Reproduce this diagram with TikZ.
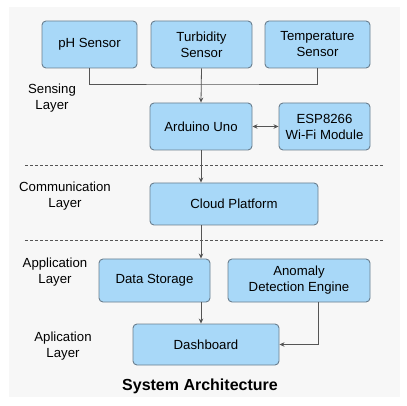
\documentclass[tikz,border=0pt]{standalone}
\usepackage{fontspec}
\setmainfont{Liberation Sans}
\usetikzlibrary{arrows.meta}
\definecolor{boxfill}{HTML}{A8D8F8}
\definecolor{boxline}{HTML}{6A7E8E}
\definecolor{wire}{HTML}{555555}
\definecolor{panel}{HTML}{F7F7F7}
\tikzset{
  block/.style = {draw=boxline, fill=boxfill, rounded corners=4pt, line width=0.9pt,
                  align=center, inner sep=2pt, font=\fontsize{13.2}{16}\selectfont},
  layer/.style = {align=center, font=\fontsize{13.2}{16}\selectfont},
  wires/.style = {draw=wire, line width=0.8pt},
  tip/.style   = {-{Stealth[length=5pt,width=4.5pt]}}
}
\begin{document}
\begin{tikzpicture}[x=1pt, y=-1pt]
        \useasboundingbox (0,0) rectangle (407,406);
        \fill[panel] (9,7) rectangle (400,397);
        % sensing layer
        \node[block, minimum width=95pt,  minimum height=47pt] (ph)   at ( 89.5, 44.5) {pH Sensor};
        \node[block, minimum width=101pt, minimum height=47pt] (turb) at (201.5, 44.5) {Turbidity\\Sensor};
        \node[block, minimum width=105pt, minimum height=47pt] (temp) at (317.5, 44.5) {Temperature\\Sensor};
        \node[block, minimum width=102pt, minimum height=47pt] (arduino) at (201, 126.5) {Arduino Uno};
        \node[block, minimum width=91pt,  minimum height=47pt] (esp)     at (324.5, 126.5) {ESP8266\\Wi-Fi Module};
        % communication layer
        \node[block, minimum width=168pt, minimum height=42pt] (cloud)   at (234, 204) {Cloud Platform};
        % application layer
        \node[block, minimum width=111pt, minimum height=43pt] (storage) at (154.5, 280.5) {Data Storage};
        \node[block, minimum width=142pt, minimum height=43pt] (anomaly) at (299, 280.5) {Anomaly\\Detection Engine};
        \node[block, minimum width=146pt, minimum height=41pt] (dash)    at (206, 344.5) {Dashboard};
        % layer names
        \node[layer] (sensing) at (52, 98)  {Sensing\\Layer};
        \node[layer] (comm)    at (65, 196) {Communication\\Layer};
        \node[layer] (app)     at (55, 272) {Application\\Layer};
        \node[layer] (app2)    at (63, 346) {Aplication\\Layer};
        \node[font=\fontsize{16}{19}\selectfont\bfseries] (title) at (200, 386) {System Architecture};
        % separators
        \draw[wire, line width=0.7pt, dash pattern=on 3pt off 2pt] (25,165) -- (383,165);
        \draw[wire, line width=0.7pt, dash pattern=on 3pt off 2pt] (25,240) -- (383,240);
        % connectors
        \coordinate (bus) at (202, 84);
        \draw[wires] (ph.south) |- (bus) -| (temp.south);
        \draw[wires, tip] (turb.south) -- (arduino.north);
        \draw[wires, {Stealth[length=5pt,width=4.5pt]}-{Stealth[length=5pt,width=4.5pt]}] (arduino.east) -- (esp.west);
        \draw[wires, tip] (arduino.south) -- (arduino.south |- cloud.north);
        \draw[wires, tip] (arduino |- cloud.south) -- (arduino |- storage.north);
        \draw[wires, tip] (arduino |- storage.south) -- (arduino |- dash.north);
        \draw[wires, tip] ([xshift=19pt]anomaly.south) |- (dash.east);
      \end{tikzpicture}
\end{document}
